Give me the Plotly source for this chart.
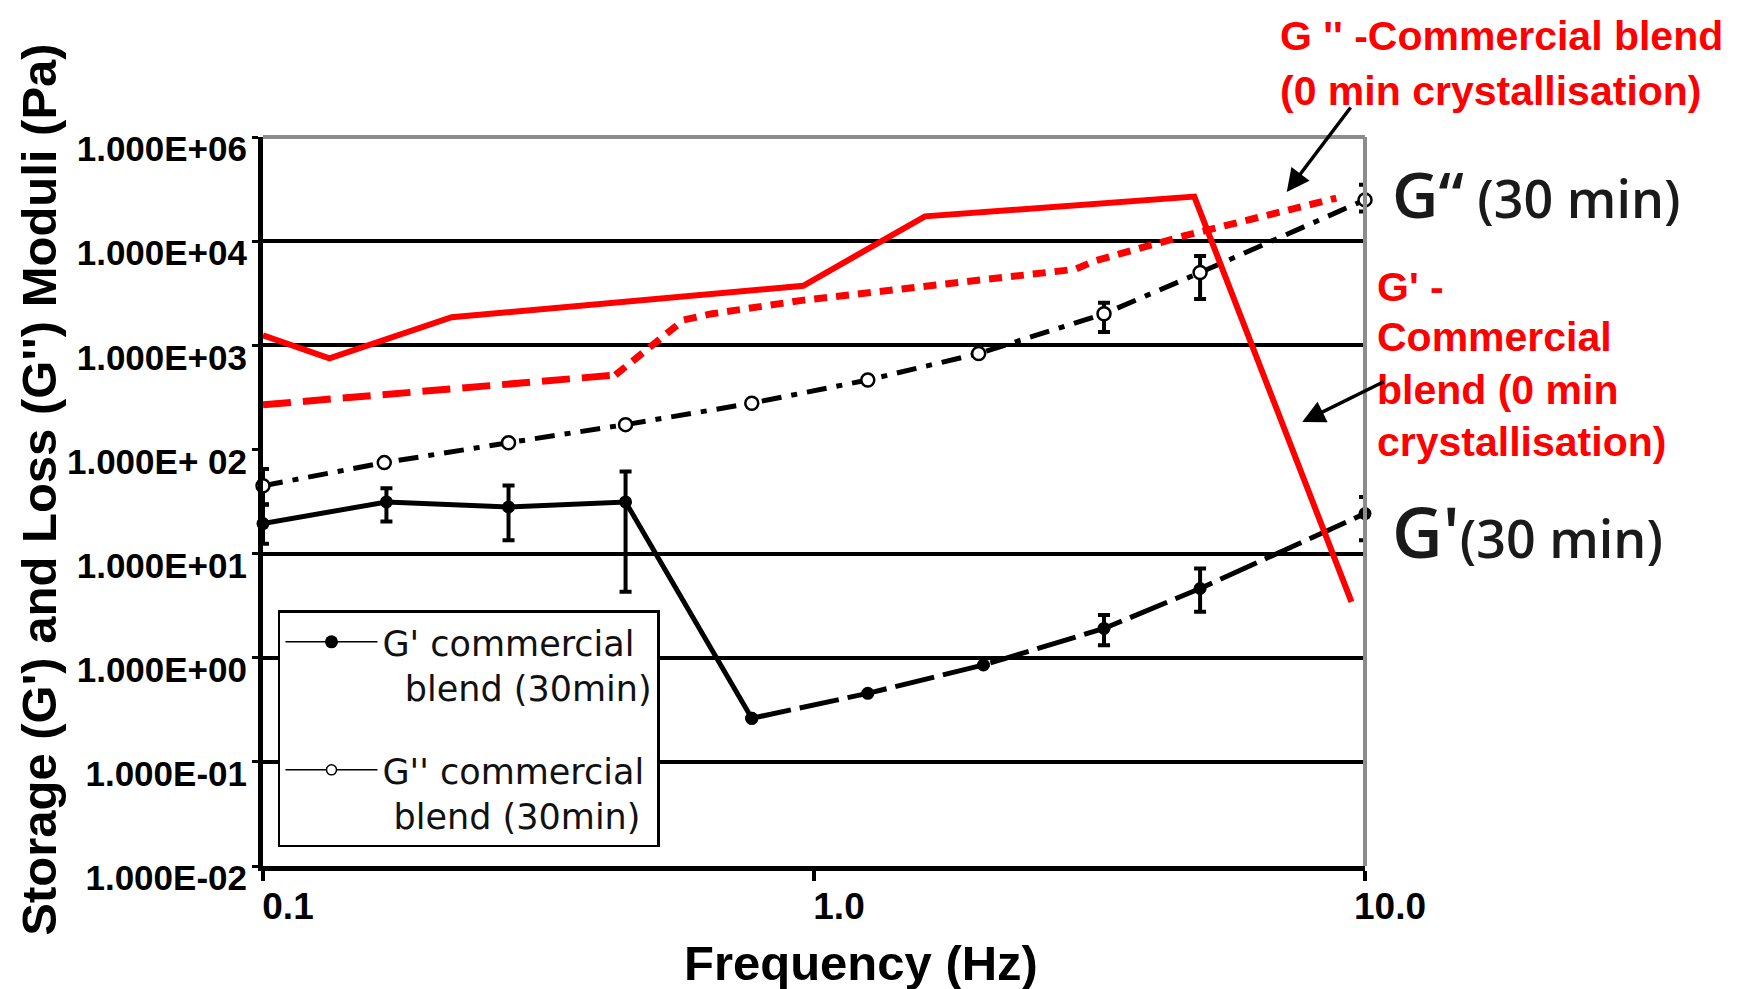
import plotly.graph_objects as go

# ---------------- data ----------------
freq_gp30 = [0.1, 0.1675, 0.279, 0.455, 0.771, 1.252, 2.03, 3.36, 5.02, 10.0]
gp30 = [19.4, 31.3, 28.0, 31.3, 0.262, 0.455, 0.851, 1.91, 4.62, 24.2]
gp30_err_plus = [10, 11, 17, 30, None, None, None, 0.66, 2.56, 10.7]
gp30_err_minus = [7, 11, 14.6, 27, None, None, None, 0.59, 1.86, 10.8]
gp30_split = 5  # line looks broken/dashed after this point

freq_gpp30 = [0.1, 0.166, 0.279, 0.455, 0.771, 1.252, 1.99, 3.36, 5.02, 10.0]
gpp30 = [44.8, 74.7, 116, 173, 278, 464, 834, 2005, 4990, 24900]
gpp30_err_plus = [20, None, None, None, None, None, None, 560, 2200, 9800]
gpp30_err_minus = [15, None, None, None, None, None, None, 660, 2200, 5600]

freq_gpp0 = [0.1, 0.132, 0.22, 0.956, 1.59, 4.90, 9.45]
gpp0 = [1245, 750, 1860, 3730, 17300, 26800, 3.44]

freq_gp0 = [0.1, 0.436, 0.47, 0.52, 0.58, 0.65, 0.95, 2.98, 3.23, 4.67, 8.87]
gp0 = [268, 518, 700, 1100, 1750, 2000, 2700, 5370, 6450, 11150, 25900]
gp0_split = 2  # dash style changes after this point

y_tick_vals = [1e-2, 1e-1, 1e0, 1e1, 1e2, 1e3, 1e4, 1e5]
y_tick_text = ["1.000E-02", "1.000E-01", "1.000E+00", "1.000E+01",
               "1.000E+ 02", "1.000E+03", "1.000E+04", "1.000E+06"]
grid_vals = [1e-1, 1e0, 1e1, 1e3, 1e4]
x_tick_vals = [0.1, 1.0, 10.0]
x_tick_text = ["0.1", "1.0", "10.0"]

legend_gp = "G' commercial<br>\u00a0\u00a0blend (30min)"
legend_gpp = "G'' commercial<br>\u00a0blend (30min)"
red_top_lines = ["G '' -Commercial blend", "(0 min crystallisation)"]
red_mid_lines = ["G' -", "Commercial", "blend (0 min", "crystallisation)"]
lbl_gpp = "<span style='font-size:64px'>G\u201c</span> (30 min)"
lbl_gp = "<span style='font-size:70px'>G'</span>(30 min)"
x_title = "Frequency (Hz)"
y_title = "Storage (G') and Loss (G'') Moduli (Pa)"

RED = "#ff0000"
BOLD = "Liberation Sans"

fig = go.Figure()

# dummy trace to carry the gridline axis
fig.add_trace(go.Scatter(x=[None], y=[None], yaxis="y2", showlegend=False,
                         hoverinfo="skip"))

# G'' 30 min (black dash-dot, open circles)
fig.add_trace(go.Scatter(
    x=freq_gpp30, y=gpp30, mode="lines+markers", showlegend=False,
    line=dict(color="black", width=5, dash="20px,10px,6px,10px"),
    marker=dict(symbol="circle", size=13, color="white",
                line=dict(color="black", width=2.5)),
    error_y=dict(type="data", symmetric=False, array=gpp30_err_plus,
                 arrayminus=gpp30_err_minus, color="black", thickness=4, width=6),
    cliponaxis=False))

# G' 30 min (black, filled circles) - solid part then broken part
s = gp30_split
fig.add_trace(go.Scatter(
    x=freq_gp30[:s], y=gp30[:s], mode="lines+markers", showlegend=False,
    line=dict(color="black", width=5),
    marker=dict(symbol="circle", size=13, color="black"),
    error_y=dict(type="data", symmetric=False, array=gp30_err_plus[:s],
                 arrayminus=gp30_err_minus[:s], color="black", thickness=4, width=6),
    cliponaxis=False))
fig.add_trace(go.Scatter(
    x=freq_gp30[s - 1:], y=gp30[s - 1:], mode="lines+markers", showlegend=False,
    line=dict(color="black", width=5, dash="40px,9px"),
    marker=dict(symbol="circle", size=13, color="black"),
    error_y=dict(type="data", symmetric=False, array=gp30_err_plus[s - 1:],
                 arrayminus=gp30_err_minus[s - 1:], color="black", thickness=4, width=6),
    cliponaxis=False))

# G' 0 min (red dashed)
fig.add_trace(go.Scatter(
    x=freq_gp0[:gp0_split], y=gp0[:gp0_split], mode="lines", showlegend=False,
    line=dict(color=RED, width=7, dash="28px,12px"), cliponaxis=False))
fig.add_trace(go.Scatter(
    x=freq_gp0[gp0_split - 1:], y=gp0[gp0_split - 1:], mode="lines",
    showlegend=False, line=dict(color=RED, width=7, dash="13px,9px"),
    cliponaxis=False))

# G'' 0 min (red solid)
fig.add_trace(go.Scatter(
    x=freq_gpp0, y=gpp0, mode="lines", showlegend=False,
    line=dict(color=RED, width=6), cliponaxis=False))

# legend proxies
fig.add_trace(go.Scatter(
    x=[None], y=[None], mode="lines+markers", name=legend_gp, legendgroup="a",
    line=dict(color="black", width=1.5),
    marker=dict(symbol="circle", size=13, color="black")))
fig.add_trace(go.Scatter(
    x=[None], y=[None], mode="lines+markers", name=legend_gpp, legendgroup="b",
    line=dict(color="black", width=1.5),
    marker=dict(symbol="circle", size=10, color="white",
                line=dict(color="black", width=1.5))))

annotations = []
red_font = dict(family=BOLD, size=41, color=RED, weight="bold")
for t, yy in zip(red_top_lines, [1.138, 1.063]):
    annotations.append(dict(text=t, xref="paper", yref="paper", x=0.921, y=yy,
                            xanchor="left", yanchor="middle", showarrow=False,
                            font=red_font))
for t, yy in zip(red_mid_lines, [0.794, 0.7257, 0.653, 0.5816]):
    annotations.append(dict(text=t, xref="paper", yref="paper", x=1.009, y=yy,
                            xanchor="left", yanchor="middle", showarrow=False,
                            font=red_font))
# black labels
lbl_font = dict(family="Open Sans", size=52, color="#1a1a1a", weight=600)
annotations.append(dict(text=lbl_gpp, xref="paper", yref="paper", x=1.0227, y=0.923,
                        xanchor="left", yanchor="middle", showarrow=False, font=lbl_font))
annotations.append(dict(text=lbl_gp, xref="paper", yref="paper", x=1.0227, y=0.4595,
                        xanchor="left", yanchor="middle", showarrow=False, font=lbl_font))
# arrows
annotations.append(dict(text="", xref="paper", yref="paper", x=0.929, y=0.9246,
                        ax=65, ay=-86, showarrow=True, arrowhead=2, arrowsize=1.3,
                        arrowwidth=3.5, arrowcolor="black"))
annotations.append(dict(text="", xref="paper", yref="paper", x=0.943, y=0.609,
                        ax=83, ay=-41, showarrow=True, arrowhead=2, arrowsize=1.3,
                        arrowwidth=3.5, arrowcolor="black"))
# axis titles
annotations.append(dict(text=x_title, xref="paper", yref="paper", x=0.543, y=-0.133,
                        xanchor="center", yanchor="middle", showarrow=False,
                        font=dict(family=BOLD, size=49, color="black", weight="bold")))
annotations.append(dict(text=y_title, xref="paper", yref="paper", x=-0.2033, y=0.516,
                        xanchor="center", yanchor="middle", showarrow=False, textangle=-90,
                        font=dict(family=BOLD, size=49, color="black", weight="bold")))

shapes = [
    dict(type="line", xref="paper", yref="paper", x0=0, x1=1, y0=1, y1=1,
         line=dict(color="#8c8c8c", width=4)),
    dict(type="line", xref="paper", yref="paper", x0=1, x1=1, y0=0, y1=1,
         line=dict(color="#8c8c8c", width=4)),
]

fig.update_layout(
    width=1746, height=989,
    margin=dict(l=263, r=381, t=137, b=123),
    paper_bgcolor="white", plot_bgcolor="white",
    xaxis=dict(type="log", range=[-1, 1], tickvals=x_tick_vals, ticktext=x_tick_text,
               showgrid=False, zeroline=False, showline=True, linecolor="black",
               linewidth=5, ticks="outside", ticklen=10, tickwidth=4,
               tickcolor="black", ticklabelshift=25, ticklabelstandoff=-6,
               tickfont=dict(family=BOLD, size=37, color="black", weight="bold")),
    yaxis=dict(type="log", range=[-2, 5], tickvals=y_tick_vals, ticktext=y_tick_text,
               showgrid=False, zeroline=False, showline=True, linecolor="black",
               linewidth=5, ticks="outside", ticklen=6, tickwidth=3,
               tickcolor="black", ticklabelshift=12, ticklabelstandoff=-2,
               tickfont=dict(family=BOLD, size=35, color="black", weight="bold")),
    yaxis2=dict(type="log", range=[-2, 5], overlaying="y", tickvals=grid_vals,
                showgrid=True, gridcolor="black", gridwidth=4, showticklabels=False,
                ticks="", showline=False, zeroline=False),
    legend=dict(x=0.0136, y=0.351, xanchor="left", yanchor="top",
                bgcolor="white", bordercolor="black", borderwidth=2.5,
                font=dict(family="DejaVu Sans", size=35, color="#111111"),
                itemwidth=92, valign="top", tracegroupgap=34),
    annotations=annotations,
    shapes=shapes,
)

fig.write_html("out.html")
